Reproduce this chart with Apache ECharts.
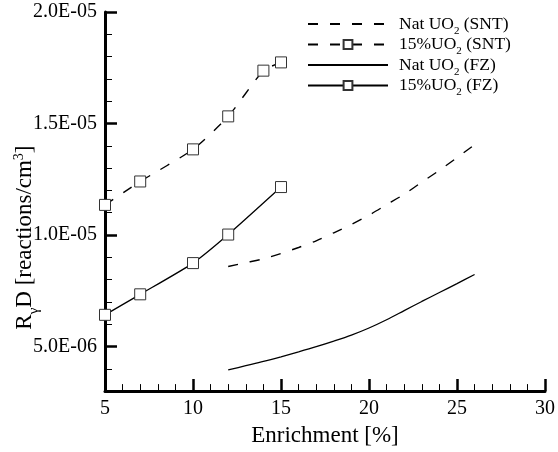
<!DOCTYPE html>
<html>
<head>
<meta charset="utf-8">
<script src="https://cdn.jsdelivr.net/npm/echarts@6/dist/echarts.min.js"></script>
<style>
  html, body { margin: 0; padding: 0; background: #ffffff; }
  #chart { width: 558px; height: 452px; }
</style>
</head>
<body>
<div id="chart"></div>
<script>
// Series names
const seriesNames = ['Nat UO2 (SNT)', '15%UO2 (SNT)', 'Nat UO2 (FZ)', '15%UO2 (FZ)'];

// Enrichment [%] for each series
const natSntX = [12, 13, 14, 15, 16, 17, 18, 19, 20, 21, 22, 23, 24, 25, 26];
const enr15SntX = [5, 7, 10, 12, 14, 15];
const natFzX = [12, 13, 14, 15, 16, 17, 18, 19, 20, 21, 22, 23, 24, 25, 26];
const enr15FzX = [5, 7, 10, 12, 15];

// Reaction rate density R_gamma D [reactions/cm^3]
const natSntY = [8.59e-6, 8.76e-6, 8.93e-6, 9.17e-6, 9.44e-6, 9.74e-6, 10.10e-6, 10.47e-6,
                 10.89e-6, 11.36e-6, 11.83e-6, 12.37e-6, 12.90e-6, 13.47e-6, 14.05e-6];
const enr15SntY = [11.35e-6, 12.40e-6, 13.84e-6, 15.32e-6, 17.37e-6, 17.74e-6];
const natFzY = [3.95e-6, 4.14e-6, 4.33e-6, 4.54e-6, 4.76e-6, 4.99e-6, 5.24e-6, 5.51e-6,
                5.83e-6, 6.20e-6, 6.61e-6, 7.02e-6, 7.42e-6, 7.82e-6, 8.23e-6];
const enr15FzY = [6.42e-6, 7.34e-6, 8.74e-6, 10.02e-6, 12.15e-6];

// Axis ranges and labelled ticks
const xMin = 5, xMax = 30, xStep = 5;
const yMin = 3e-6, yMax = 2e-5, yMinorStep = 1e-6;
const yLabelTicks = [5e-6, 1e-5, 1.5e-5, 2e-5];

const FONT = '"Liberation Serif", "Times New Roman", serif';

function pairs(xs, ys) { return xs.map((x, i) => [x, ys[i]]); }

function sciLabel(v) {
  const e = Math.floor(Math.log10(v) + 1e-9);
  const m = v / Math.pow(10, e);
  const sign = e < 0 ? '-' : '+';
  return m.toFixed(1) + 'E' + sign + String(Math.abs(e)).padStart(2, '0');
}

// "UO2" -> subscripted 2 in rich text
function richName(name) {
  const parts = name.split('UO2');
  return '{n|' + parts[0] + 'UO}{s|2}{n|' + parts[1] + '}';
}

const chart = echarts.init(document.getElementById('chart'), null, { renderer: 'canvas' });

const lineColor = '#000000';
const markerStyle = { color: '#ffffff', borderColor: '#333333', borderWidth: 1 };

// plain-line legend entries carry no symbol
const legendData = seriesNames.map((name, i) =>
  (i % 2 === 0) ? { name: name, itemStyle: { opacity: 0 } } : { name: name });

const option = {
  backgroundColor: '#ffffff',
  animation: false,
  textStyle: { fontFamily: FONT, color: '#000' },
  grid: { left: 105, right: 11.5, top: 12, bottom: 54.5, containLabel: false },
  legend: {
    orient: 'vertical',
    left: 307,
    top: 15,
    padding: 0,
    itemWidth: 80,
    itemHeight: 11,
    itemGap: -1,
    data: legendData,
    formatter: richName,
    textStyle: {
      fontFamily: FONT,
      color: '#000',
      padding: [0, 0, 0, 6],
      rich: {
        n: { fontFamily: FONT, fontSize: 17.5, color: '#000', lineHeight: 17 },
        s: { fontFamily: FONT, fontSize: 11, color: '#000', verticalAlign: 'bottom', lineHeight: 10, padding: [0, 0, -4, 0] }
      }
    }
  },
  xAxis: {
    type: 'value',
    min: xMin,
    max: xMax,
    interval: xStep,
    name: 'Enrichment [%]',
    nameLocation: 'middle',
    nameGap: 31,
    nameTextStyle: { fontFamily: FONT, fontSize: 23, color: '#000' },
    axisLine: { show: true, onZero: false, lineStyle: { color: '#000', width: 3 } },
    axisTick: { show: true, inside: true, length: 12, lineStyle: { color: '#000', width: 2.5 } },
    minorTick: { show: true, splitNumber: 5, length: 7, lineStyle: { color: '#000', width: 1 } },
    axisLabel: { margin: 8, fontFamily: FONT, fontSize: 20, color: '#000' },
    splitLine: { show: false },
    minorSplitLine: { show: false }
  },
  yAxis: [
    {
      // unlabelled 1e-6 ticks
      type: 'value',
      min: yMin,
      max: yMax,
      interval: yMinorStep,
      position: 'left',
      axisLine: { show: true, onZero: false, lineStyle: { color: '#000', width: 3 } },
      axisTick: { show: true, inside: true, length: 7, lineStyle: { color: '#000', width: 1 } },
      axisLabel: { show: false },
      splitLine: { show: false },
      name: '{r|R}{g|γ}{r|D [reactions/cm}{p|3}{r|]}',
      nameLocation: 'middle',
      nameGap: 67,
      nameRotate: 90,
      nameTextStyle: {
        fontFamily: FONT,
        color: '#000',
        padding: [0, 72, 0, 0],
        rich: {
          r: { fontFamily: FONT, fontSize: 23, color: '#000', lineHeight: 26 },
          g: { fontFamily: FONT, fontSize: 15, color: '#000', verticalAlign: 'bottom', lineHeight: 15, padding: [0, 0, -4, 0] },
          p: { fontFamily: FONT, fontSize: 14, color: '#000', verticalAlign: 'top', lineHeight: 14 }
        }
      }
    },
    {
      // labelled major ticks
      type: 'value',
      min: yMin,
      max: yMax,
      interval: yMinorStep,
      position: 'left',
      axisLine: { show: false },
      axisTick: { show: true, inside: true, length: 12, customValues: yLabelTicks, lineStyle: { color: '#000', width: 2.5 } },
      axisLabel: { show: true, margin: 8, customValues: yLabelTicks, formatter: sciLabel, fontFamily: FONT, fontSize: 20, color: '#000' },
      splitLine: { show: false }
    }
  ],
  series: [
    {
      name: seriesNames[0], type: 'line', yAxisIndex: 0,
      data: pairs(natSntX, natSntY), smooth: 0.3,
      showSymbol: false,
      lineStyle: { color: lineColor, width: 1.4, type: [10, 12] },
      itemStyle: { color: lineColor }
    },
    {
      name: seriesNames[1], type: 'line', yAxisIndex: 0,
      data: pairs(enr15SntX, enr15SntY), smooth: 0.2,
      symbol: 'rect', symbolSize: 11,
      lineStyle: { color: lineColor, width: 1.4, type: [10, 12] },
      itemStyle: markerStyle
    },
    {
      name: seriesNames[2], type: 'line', yAxisIndex: 0,
      data: pairs(natFzX, natFzY), smooth: 0.3,
      showSymbol: false,
      lineStyle: { color: lineColor, width: 1.3 },
      itemStyle: { color: lineColor }
    },
    {
      name: seriesNames[3], type: 'line', yAxisIndex: 0,
      data: pairs(enr15FzX, enr15FzY), smooth: 0.2,
      symbol: 'rect', symbolSize: 11,
      lineStyle: { color: lineColor, width: 1.3 },
      itemStyle: markerStyle
    }
  ]
};

chart.setOption(option);
</script>
</body>
</html>
